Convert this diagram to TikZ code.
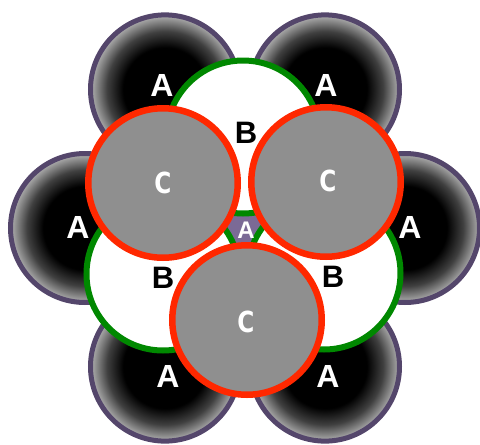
\documentclass[tikz,border=0pt]{standalone}
\usepackage{fontspec}
\setmainfont{Liberation Sans}
\newfontfamily\cletterfont{DejaVu Sans}
\definecolor{apurple}{RGB}{84,70,107}
\definecolor{cpurple}{RGB}{123,106,150}
\definecolor{bgreen}{RGB}{0,136,0}
\definecolor{cred}{RGB}{255,40,0}
\definecolor{cgray}{RGB}{143,143,143}
\pgfdeclareradialshading{ashade}{\pgfpoint{0bp}{0bp}}{color(0bp)=(black); color(14bp)=(black); color(19.5bp)=(black!75); color(25bp)=(black!30); color(50bp)=(black!30)}
\begin{document}
\begin{tikzpicture}[x=1pt,y=-1pt,
  acirc/.style={circle, inner sep=0pt, minimum size=149pt, shading=ashade, draw=apurple, line width=5pt},
  acenter/.style={circle, inner sep=0pt, minimum size=149pt, fill=cpurple, draw=apurple, line width=5pt},
  bcirc/.style={circle, inner sep=0pt, minimum size=153pt, fill=white, draw=bgreen, line width=6pt},
  ccirc/.style={circle, inner sep=0pt, minimum size=149.5pt, fill=cgray, draw=cred, line width=6.5pt},
  alab/.style={inner sep=0pt, text=white, font=\fontsize{32}{32}\selectfont\bfseries},
  aclab/.style={inner sep=0pt, text=white, font=\fontsize{24}{24}\selectfont\bfseries},
  blab/.style={inner sep=0pt, text=black, font=\fontsize{31}{31}\selectfont\bfseries},
  clab/.style={inner sep=0pt, text=white, font=\cletterfont\fontsize{29}{29}\selectfont\bfseries}]
\useasboundingbox (0,0) rectangle (480,445);
% A layer
\node[acenter] (aC) at (245,228) {};
\node[acirc] (aTL) at (165,89.4) {};
\node[acirc] (aTR) at (325,89.4) {};
\node[acirc] (aL) at (85,228) {};
\node[acirc] (aR) at (405,228) {};
\node[acirc] (aBL) at (165,366.6) {};
\node[acirc] (aBR) at (325,366.6) {};
\node[alab] (laTL) at (162,85) {A};
\node[alab] (laTR) at (326,85) {A};
\node[alab] (laL) at (78,227) {A};
\node[alab] (laR) at (410,227) {A};
\node[alab] (laBL) at (168,376) {A};
\node[alab] (laBR) at (328,376) {A};
% B layer
\node[bcirc] (bT) at (243,137) {};
\node[bcirc] (bBL) at (163,274) {};
\node[bcirc] (bBR) at (324,273) {};
\node[aclab] (laC) at (246,230) {A};
% C layer
\node[ccirc] (cTL) at (163,183) {};
\node[ccirc] (cTR) at (326,182) {};
\node[ccirc] (cB) at (247,320) {};
\node[blab] (lbT) at (246,133) {B};
\node[blab] (lbBL) at (163,278) {B};
\node[blab] (lbBR) at (333,277) {B};
\node[clab] (lcTL) at (163,183) {\scalebox{0.8}[1]{C}};
\node[clab] (lcTR) at (328,181) {\scalebox{0.8}[1]{C}};
\node[clab] (lcB) at (246,322) {\scalebox{0.8}[1]{C}};
\end{tikzpicture}
\end{document}
